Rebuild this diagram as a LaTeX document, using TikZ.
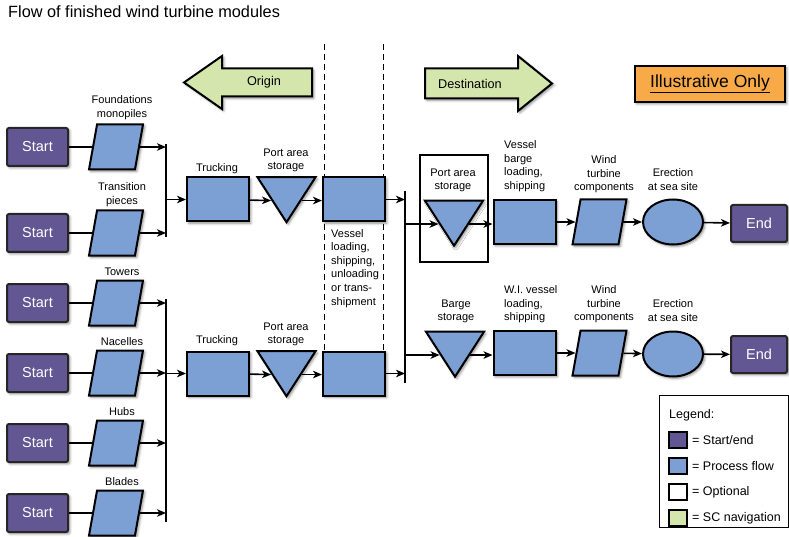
\documentclass[tikz,border=0pt]{standalone}
\usepackage{fontspec}
\setmainfont{Liberation Sans}
\usetikzlibrary{shapes.geometric,arrows.meta,shadows.blur,calc}
\definecolor{startc}{HTML}{625793}
\definecolor{procc}{HTML}{7CA0D4}
\definecolor{navc}{HTML}{D5E6AD}
\definecolor{orangec}{HTML}{F9AA48}
\tikzset{
  shad/.style={blur shadow={shadow xshift=1.8pt,shadow yshift=-1.8pt,shadow blur radius=2.5pt,shadow opacity=45}},
  startbox/.style={draw=black!85,line width=2pt,fill=startc,rounded corners=2pt,minimum width=61pt,minimum height=38pt,inner sep=0pt,text=white,font=\fontsize{14.5}{17}\selectfont,shad},
  procbox/.style={draw=black,line width=2pt,fill=procc,minimum width=62pt,minimum height=44pt,inner sep=0pt,shad},
  parabox/.style={trapezium,trapezium left angle=78,trapezium right angle=102,trapezium stretches=true,draw=black,line width=2pt,fill=procc,minimum width=54pt,minimum height=45pt,inner sep=1pt,shad},
  tribox/.style={isosceles triangle,isosceles triangle stretches=true,shape border rotate=270,draw=black,line width=2pt,fill=procc,minimum width=58pt,minimum height=45pt,inner sep=1pt,shad,yshift=6.7pt},
  ellbox/.style={ellipse,draw=black,line width=2pt,fill=procc,minimum width=60pt,minimum height=45pt,inner sep=0pt,shad},
  lbl/.style={font=\fontsize{11}{13.5}\selectfont,align=center,inner sep=0pt,anchor=north},
  lbll/.style={font=\fontsize{11}{13.6}\selectfont,align=left,inner sep=0pt,anchor=north west},
  arr/.style={line width=1.6pt,-{Stealth[length=9pt,width=7.5pt,inset=2.5pt]}},
  plainln/.style={line width=2pt},
  barline/.style={line width=2.2pt},
  navarrow/.style={draw=black,line width=2pt,fill=navc,shad},
  dashln/.style={line width=1pt,dash pattern=on 6pt off 4pt},
  legsw/.style={draw=black,line width=1.5pt,minimum width=18pt,minimum height=16pt,inner sep=0pt},
  legtxt/.style={font=\fontsize{12.5}{15}\selectfont,anchor=west,inner sep=0pt},
}
\begin{document}
\begin{tikzpicture}[x=1pt,y=-1pt]
\useasboundingbox (0,0) rectangle (789,537);
% title
\node[anchor=base west,inner sep=0pt,font=\fontsize{16.3}{19}\selectfont] (title) at (8,18) {Flow of finished wind turbine modules};
% dashed lines
\coordinate (d1t) at (324,44); \coordinate (d1b) at (324,351);
\coordinate (d2t) at (383.5,44); \coordinate (d2b) at (383.5,351);
\draw[dashln] (d1t) -- (d1b);
\draw[dashln] (d2t) -- (d2b);
% navigation arrows
\draw[navarrow] (184,82.5) -- (222,56) -- (222,68.5) -- (312,68.5) -- (312,96.5) -- (222,96.5) -- (222,109) -- cycle;
\node[font=\fontsize{12.7}{15}\selectfont,inner sep=0pt] (origin) at (264,82.5) {Origin};
\draw[navarrow] (552,83.5) -- (518,56) -- (518,68.5) -- (425,68.5) -- (425,98.5) -- (518,98.5) -- (518,111) -- cycle;
\node[font=\fontsize{12.7}{15}\selectfont,inner sep=0pt] (dest) at (470,83.5) {Destination};
% illustrative
\node[draw=black,line width=2pt,fill=orangec,minimum width=150pt,minimum height=36pt,inner sep=0pt,shad,font=\fontsize{17.5}{20}\selectfont] (illus) at (710,84) {\underline{Illustrative Only}};
% start nodes
\foreach \i/\y in {1/147,2/233,3/303,4/373,5/443,6/513}{
  \node[startbox] (s\i) at (37.5,\y) {Start};
  \node[parabox] (p\i) at (116,\y) {};
}
% labels
\node[lbl] (l1) at (122,95.5) {Foundations\\monopiles};
\node[lbl] (l2) at (122,182.5) {Transition\\pieces};
\node[lbl] (l3) at (122,267.5) {Towers};
\node[lbl] (l4) at (122,337.5) {Nacelles};
\node[lbl] (l5) at (122,407.5) {Hubs};
\node[lbl] (l6) at (122,477.5) {Blades};
% bars
\coordinate (b1t) at (166,144); \coordinate (b1b) at (166,237);
\coordinate (b2t) at (166,299); \coordinate (b2b) at (166,522);
\coordinate (b3t) at (405,191); \coordinate (b3b) at (405,383);
\draw[barline] (b1t) -- (b1b);
\draw[barline] (b2t) -- (b2b);
\draw[barline] (b3t) -- (b3b);
% left process rows
\node[procbox] (tr1) at (218,199.5) {};
\node[tribox] (tri1) at (286.5,199.5) {};
\node[procbox] (ves1) at (354,199.5) {};
\node[procbox] (tr2) at (218,373.5) {};
\node[tribox] (tri2) at (286.5,373.5) {};
\node[procbox] (ves2) at (354,373.5) {};
\node[lbl] (ltr1) at (217,163.5) {Trucking};
\node[lbl] (ltri1) at (286,148.5) {Port area\\storage};
\node[lbl] (ltr2) at (217,335.5) {Trucking};
\node[lbl] (ltri2) at (286,322.5) {Port area\\storage};
\node[lbll] (lves) at (331,229) {Vessel\\loading,\\shipping,\\unloading\\or trans-\\shipment};
% optional box
\node[draw=black,line width=2pt,fill=white,minimum width=68pt,minimum height=107pt,inner sep=0pt] (opt) at (454,208.5) {};
\node[lbl] (lopt) at (453,168.5) {Port area\\storage};
% right upper row
\node[tribox] (tri3) at (454,223) {};
\node[procbox] (vb1) at (524.5,222) {};
\node[parabox] (wt1) at (599.5,222) {};
\node[ellbox] (er1) at (673,222) {};
\node[startbox,minimum width=56pt,minimum height=37pt] (e1) at (759,223.5) {End};
\node[lbll] (lvb1) at (504,140.5) {Vessel\\barge\\loading,\\shipping};
\node[lbl] (lwt1) at (604,155.5) {Wind\\turbine\\components};
\node[lbl] (ler1) at (673,168.5) {Erection\\at sea site};
% right lower row
\node[tribox] (tri4) at (455,354) {};
\node[procbox] (vb2) at (524.5,353) {};
\node[parabox] (wt2) at (599.5,353) {};
\node[ellbox] (er2) at (673,354) {};
\node[startbox,minimum width=56pt,minimum height=37pt] (e2) at (759,354.5) {End};
\node[lbl] (ltri4) at (456,299.5) {Barge\\storage};
\node[lbll] (lvb2) at (504,285.5) {W.I. vessel\\loading,\\shipping};
\node[lbl] (lwt2) at (604,285.5) {Wind\\turbine\\components};
\node[lbl] (ler2) at (673,299.5) {Erection\\at sea site};
% connectors left
\foreach \i in {1,2}{ \draw[plainln] (s\i) -- (p\i); \draw[arr] (p\i) -- (p\i -| b1t); }
\foreach \i in {3,4,5,6}{ \draw[plainln] (s\i) -- (p\i); \draw[arr] (p\i) -- (p\i -| b2t); }
\draw[arr] (tr1 -| b1t) -- (tr1);
\draw[arr] (tr2 -| b2t) -- (tr2);
\draw[arr] (tr1) -- (tri1.right side);
\draw[arr] (tri1.left side) -- (tri1.left side -| ves1.west);
\draw[arr] (tr2) -- (tri2.right side);
\draw[arr] (tri2.left side) -- (tri2.left side -| ves2.west);
\draw[arr] (ves1) -- (ves1 -| b3t);
\draw[arr] (ves2) -- (ves2 -| b3t);
% connectors right
\draw[arr] (tri3.right side -| b3t) -- (tri3.right side);
\draw[arr] (tri4.right side -| b3t) -- (tri4.right side);
\draw[arr] (tri3.left side) -- (tri3.left side -| vb1.west);
\draw[arr] (vb1) -- (wt1);
\draw[arr] (wt1) -- (er1);
\draw[arr] (er1) -- (e1);
\draw[arr] (tri4.left side) -- (tri4.left side -| vb2.west);
\draw[arr] (vb2) -- (wt2);
\draw[arr] (wt2) -- (er2);
\draw[arr] (er2) -- (e2);
% legend
\node[draw=black,line width=1.2pt,fill=white,minimum width=129pt,minimum height=132pt,inner sep=0pt,anchor=north west] (leg) at (658.5,394.5) {};
\node[legtxt] (legt) at (669,415) {Legend:};
\node[legsw,fill=startc] (sw1) at (678,440) {};
\node[legsw,fill=procc] (sw2) at (678,466) {};
\node[legsw,fill=white] (sw3) at (678,492) {};
\node[legsw,fill=navc] (sw4) at (678,518) {};
\node[legtxt] (lt1) at (692,440) {= Start/end};
\node[legtxt] (lt2) at (692,466) {= Process flow};
\node[legtxt] (lt3) at (692,492) {= Optional};
\node[legtxt] (lt4) at (692,518) {= SC navigation};
\end{tikzpicture}
\end{document}
